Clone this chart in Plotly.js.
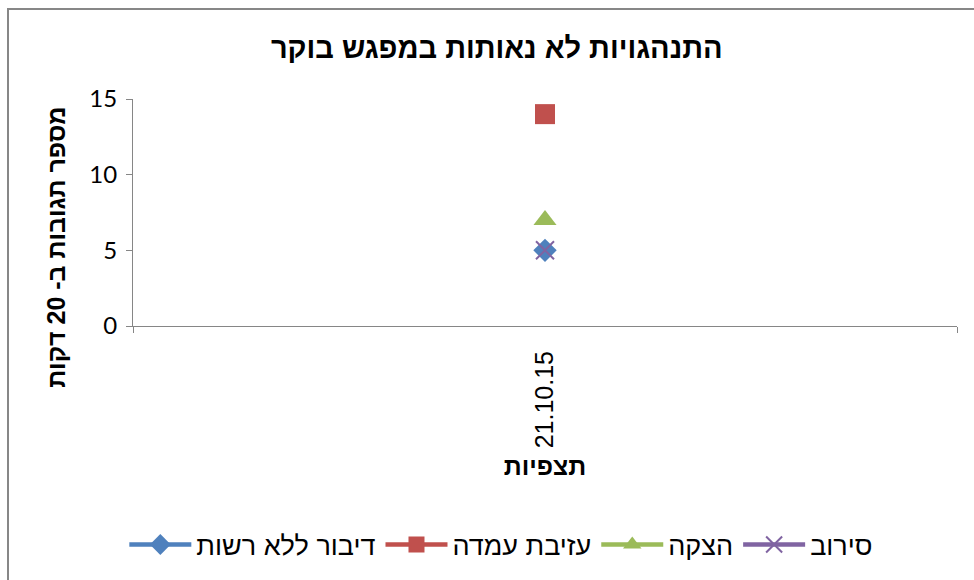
<!DOCTYPE html>
<html><head><meta charset="utf-8">
<script src="https://cdn.plot.ly/plotly-3.0.1.min.js"></script>
<style>
html,body{margin:0;padding:0;background:#fff;}
#frame{position:absolute;left:7px;top:8px;width:967px;height:572px;border-left:2px solid #878787;border-top:2px solid #878787;box-sizing:border-box;}
#chart{position:absolute;left:0;top:0;width:974px;height:580px;}
</style>
</head><body>
<div id="chart"></div>
<div id="frame"></div>
<script>
const categories = ["21.10.15"];
const seriesNames = ["דיבור ללא רשות", "עזיבת עמדה", "הצקה", "סירוב"];
const talkingValues = [5];
const leavingValues = [14];
const teasingValues = [7];
const refusalValues = [5];
const yTicks = [0, 5, 10, 15];

const colors = ["#4F81BD", "#C0504D", "#9BBB59", "#8064A2"];
const symbols = ["diamond", "square", "triangle-up", "x-thin-open"];
const allValues = [talkingValues, leavingValues, teasingValues, refusalValues];

const traces = allValues.map((vals, i) => ({
  type: "scatter",
  mode: "lines+markers",
  x: categories,
  y: vals,
  name: seriesNames[i],
  line: {color: colors[i], width: 4.5},
  marker: i === 3
    ? {symbol: symbols[i], size: 18, color: colors[i], line: {color: colors[i], width: 2}}
    : {symbol: symbols[i], size: i === 0 ? 18 : 20, color: colors[i], line: {width: 0}}
}));

const hebFont = "Liberation Sans, Arial, sans-serif";

const layout = {
  width: 974, height: 580,
  margin: {l: 133, r: 17, t: 99, b: 253},
  paper_bgcolor: "#fff", plot_bgcolor: "#fff",
  showlegend: true,
  title: {
    text: "<b>התנהגויות לא נאותות במפגש בוקר</b>",
    font: {family: hebFont, size: 29, color: "#000"},
    x: 0.51, xanchor: "center", y: 0.917, yanchor: "middle", yref: "container"
  },
  xaxis: {
    type: "category",
    range: [-0.5, 0.5],
    tickson: "boundaries",
    ticks: "outside", ticklen: 6, tickcolor: "#868686", tickwidth: 1,
    showline: true, linecolor: "#868686", linewidth: 1,
    showgrid: false, zeroline: false,
    tickangle: -90,
    ticklabelstandoff: 14,
    tickfont: {family: "Arial, Liberation Sans, sans-serif", size: 25, color: "#000"},
    title: {text: "<b>תצפיות</b>", font: {family: hebFont, size: 25, color: "#000"}, standoff: 10}
  },
  yaxis: {
    range: [0, 15],
    tickvals: yTicks,
    ticks: "outside", ticklen: 6, tickcolor: "#868686", tickwidth: 1,
    showline: true, linecolor: "#868686", linewidth: 1,
    showgrid: false, zeroline: false,
    tickfont: {family: "Lato, Carlito, Calibri, sans-serif", size: 24, color: "#000"},
    ticklabelstandoff: 4
  },
  annotations: [{
    text: "<b>מספר תגובות ב- 20 דקות</b>",
    xref: "paper", yref: "paper",
    x: -0.093, y: 0.346, xanchor: "center", yanchor: "middle",
    textangle: -90, showarrow: false,
    font: {family: hebFont, size: 25, color: "#000"}
  }],
  legend: {
    orientation: "h",
    x: 0.447, xanchor: "center",
    y: -0.956, yanchor: "middle",
    font: {family: hebFont, size: 27, color: "#000"},
    itemwidth: 62,
    bgcolor: "rgba(0,0,0,0)"
  }
};

Plotly.newPlot("chart", traces, layout, {displayModeBar: false, staticPlot: true});
</script>
</body></html>
